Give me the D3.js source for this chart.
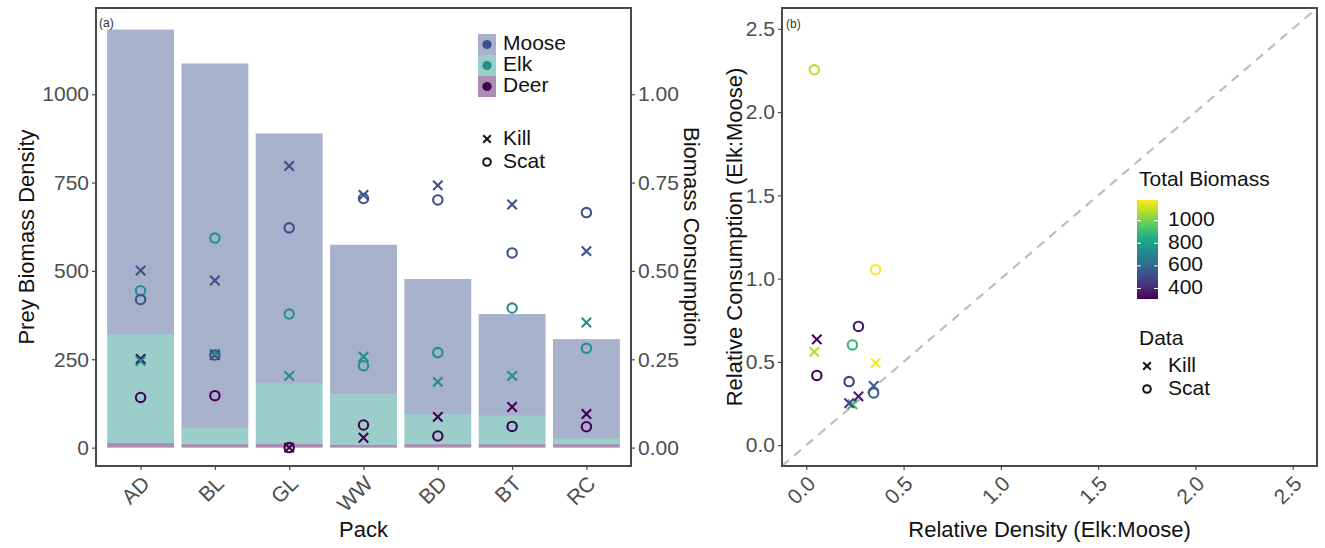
<!DOCTYPE html>
<html>
<head>
<meta charset="utf-8">
<script src="https://cdn.jsdelivr.net/npm/d3@7"></script>
<style>
  html, body { margin: 0; padding: 0; background: #fff; }
  svg { display: block; font-family: "Liberation Sans", Arial, Helvetica, sans-serif; }
</style>
</head>
<body>
<svg id="chart" width="1325" height="548"></svg>
<script>
// ---- Data -----------------------------------------------------------
const packs = ["AD", "BL", "GL", "WW", "BD", "BT", "RC"];

// Prey biomass density by species (stacked bars)
const deerDensity  = [13, 10, 11, 8, 10, 10, 10];
const elkDensity   = [308, 45, 170, 143, 85, 80, 17];
const mooseDensity = [862, 1032, 708, 423, 382, 288, 280];

// Proportion of biomass consumed, from kills and from scats
const killMoose = [0.501, 0.473, 0.797, 0.715, 0.742, 0.688, 0.556];
const killElk   = [0.245, 0.265, 0.203, 0.257, 0.186, 0.203, 0.354];
const killDeer  = [0.251, 0.262, 0.000, 0.028, 0.087, 0.115, 0.095];
const scatMoose = [0.419, 0.262, 0.622, 0.705, 0.701, 0.551, 0.665];
const scatElk   = [0.444, 0.593, 0.378, 0.232, 0.269, 0.395, 0.281];
const scatDeer  = [0.142, 0.147, 0.000, 0.064, 0.033, 0.060, 0.059];

// Elk:Moose ratios per pack
const relDensity = [0.356, 0.041, 0.237, 0.346, 0.220, 0.268, 0.054];
const relKill    = [0.493, 0.560, 0.245, 0.356, 0.252, 0.293, 0.635];
const relScat    = [1.054, 2.254, 0.602, 0.314, 0.382, 0.713, 0.419];

const leftTicks  = [0, 250, 500, 750, 1000];
const rightTicks = [0, 0.25, 0.5, 0.75, 1.0];
const ratioTicks = [0, 0.5, 1.0, 1.5, 2.0, 2.5];
const biomassTicks = [400, 600, 800, 1000];

const species = ["Moose", "Elk", "Deer"];
const speciesColor = { Moose: "#3B528B", Elk: "#21908C", Deer: "#440154" };
const barAlpha = 0.45;

// ---- Setup ----------------------------------------------------------
const svg = d3.select("#chart");
const tickColor = "#4D4D4D";
const frameColor = "#4a4a4a";
const tickFont = 21, titleFont = 22, legendFont = 21;

const totals = packs.map((p, i) => deerDensity[i] + elkDensity[i] + mooseDensity[i]);
const colorScale = d3.scaleSequential(d3.interpolateViridis).domain(d3.extent(totals));

function cross(g, x, y, h, color, sw) {
  g.append("path")
    .attr("d", `M${x - h},${y - h}L${x + h},${y + h}M${x - h},${y + h}L${x + h},${y - h}`)
    .attr("stroke", color).attr("stroke-width", sw).attr("fill", "none");
}
function ring(g, x, y, r, color, sw) {
  g.append("circle").attr("cx", x).attr("cy", y).attr("r", r)
    .attr("fill", "none").attr("stroke", color).attr("stroke-width", sw);
}
function styleAxis(g) {
  g.select(".domain").remove();
  g.selectAll(".tick line").attr("stroke", tickColor).attr("stroke-width", 1.2);
  g.selectAll(".tick text").attr("fill", tickColor).attr("font-size", tickFont)
    .attr("font-family", "Liberation Sans, Arial, sans-serif");
}

// ---- Panel (a): stacked bars + consumption points --------------------
const A = { left: 96, right: 631, top: 8, bottom: 466 };
const xA = d3.scalePoint().domain(packs).range([A.left, A.right]).padding(0.6);
const yA = d3.scaleLinear().domain([-52, 1244]).range([A.bottom, A.top]);
const yA2 = d3.scaleLinear().domain([-0.052, 1.244]).range([A.bottom, A.top]);
const barW = xA.step() * 0.9;

const gA = svg.append("g");
gA.append("defs").append("clipPath").attr("id", "clipA")
  .append("rect").attr("x", A.left).attr("y", A.top)
  .attr("width", A.right - A.left).attr("height", A.bottom - A.top);

const stackRows = packs.map((p, i) => ({ pack: p, Deer: deerDensity[i], Elk: elkDensity[i], Moose: mooseDensity[i] }));
const stacked = d3.stack().keys(["Deer", "Elk", "Moose"])(stackRows);
const barsG = gA.append("g").attr("clip-path", "url(#clipA)");
stacked.forEach(layer => {
  barsG.selectAll(null).data(layer).enter().append("rect")
    .attr("x", d => xA(d.data.pack) - barW / 2)
    .attr("width", barW)
    .attr("y", d => yA(d[1]))
    .attr("height", d => yA(d[0]) - yA(d[1]))
    .attr("fill", speciesColor[layer.key])
    .attr("fill-opacity", barAlpha);
});

// Consumption points (right axis)
const ptsA = barsG.append("g");
const killSets = { Moose: killMoose, Elk: killElk, Deer: killDeer };
const scatSets = { Moose: scatMoose, Elk: scatElk, Deer: scatDeer };
["Deer", "Elk", "Moose"].forEach(sp => {
  packs.forEach((p, i) => {
    ring(ptsA, xA(p), yA2(scatSets[sp][i]), 4.7, speciesColor[sp], 2.1);
  });
  packs.forEach((p, i) => {
    cross(ptsA, xA(p), yA2(killSets[sp][i]), 4.7, speciesColor[sp], 2.1);
  });
});

// Axes
const axL = gA.append("g").attr("transform", `translate(${A.left},0)`)
  .call(d3.axisLeft(yA).tickValues(leftTicks).tickSize(4).tickPadding(3).tickFormat(d3.format("d")));
styleAxis(axL);
const axR = gA.append("g").attr("transform", `translate(${A.right},0)`)
  .call(d3.axisRight(yA2).tickValues(rightTicks).tickSize(4).tickPadding(3).tickFormat(d3.format(".2f")));
styleAxis(axR);
const axB = gA.append("g").attr("transform", `translate(0,${A.bottom})`)
  .call(d3.axisBottom(xA).tickSize(4).tickPadding(3));
styleAxis(axB);
axB.selectAll(".tick text")
  .attr("text-anchor", "end").attr("dy", null).attr("y", null)
  .attr("transform", "translate(6,15) rotate(-45)")
  .attr("dominant-baseline", "middle");

gA.append("rect").attr("x", A.left).attr("y", A.top)
  .attr("width", A.right - A.left).attr("height", A.bottom - A.top)
  .attr("fill", "none").attr("stroke", frameColor).attr("stroke-width", 2);

gA.append("text").attr("x", 99).attr("y", 27).attr("font-size", 12).attr("fill", "#333").text("(a)");

// Titles
gA.append("text").attr("x", (A.left + A.right) / 2).attr("y", 537)
  .attr("text-anchor", "middle").attr("font-size", titleFont).attr("fill", "#111").text("Pack");
gA.append("text").attr("transform", `translate(34,${(A.top + A.bottom) / 2}) rotate(-90)`)
  .attr("text-anchor", "middle").attr("font-size", titleFont).attr("fill", "#111").text("Prey Biomass Density");
gA.append("text").attr("transform", `translate(684,${(A.top + A.bottom) / 2}) rotate(90)`)
  .attr("text-anchor", "middle").attr("font-size", titleFont).attr("fill", "#111").text("Biomass Consumption");

// Legend (a)
const legA = gA.append("g");
species.forEach((sp, i) => {
  const y0 = 34 + i * 21;
  legA.append("rect").attr("x", 478).attr("y", y0).attr("width", 18).attr("height", 21)
    .attr("fill", speciesColor[sp]).attr("fill-opacity", barAlpha);
  legA.append("circle").attr("cx", 487).attr("cy", y0 + 10.5).attr("r", 4.6).attr("fill", speciesColor[sp]);
  legA.append("text").attr("x", 503).attr("y", y0 + 10.5).attr("dominant-baseline", "middle")
    .attr("font-size", legendFont).attr("fill", "#111").text(sp);
});
cross(legA, 487, 139, 3.8, "#111", 2);
ring(legA, 487, 162, 3.8, "#111", 2);
legA.append("text").attr("x", 503).attr("y", 139).attr("dominant-baseline", "middle")
  .attr("font-size", legendFont).attr("fill", "#111").text("Kill");
legA.append("text").attr("x", 503).attr("y", 162).attr("dominant-baseline", "middle")
  .attr("font-size", legendFont).attr("fill", "#111").text("Scat");

// ---- Panel (b): Elk:Moose ratios --------------------------------------
const B = { left: 782, right: 1317, top: 8, bottom: 466 };
const xB = d3.scaleLinear().domain([-0.125, 2.625]).range([B.left, B.right]);
const yB = d3.scaleLinear().domain([-0.125, 2.625]).range([B.bottom, B.top]);

const gB = svg.append("g");
gB.append("defs").append("clipPath").attr("id", "clipB")
  .append("rect").attr("x", B.left).attr("y", B.top)
  .attr("width", B.right - B.left).attr("height", B.bottom - B.top);
const plotB = gB.append("g").attr("clip-path", "url(#clipB)");

// 1:1 reference line
plotB.append("line")
  .attr("x1", xB(-0.125)).attr("y1", yB(-0.125))
  .attr("x2", xB(2.625)).attr("y2", yB(2.625))
  .attr("stroke", "#BEBEBE").attr("stroke-width", 2.2).attr("stroke-dasharray", "9,7");

packs.forEach((p, i) => {
  ring(plotB, xB(relDensity[i]), yB(relScat[i]), 4.7, colorScale(totals[i]), 2.1);
});
packs.forEach((p, i) => {
  cross(plotB, xB(relDensity[i]), yB(relKill[i]), 4.7, colorScale(totals[i]), 2.1);
});

const bxL = gB.append("g").attr("transform", `translate(${B.left},0)`)
  .call(d3.axisLeft(yB).tickValues(ratioTicks).tickSize(4).tickPadding(3).tickFormat(d3.format(".1f")));
styleAxis(bxL);
const bxB = gB.append("g").attr("transform", `translate(0,${B.bottom})`)
  .call(d3.axisBottom(xB).tickValues(ratioTicks).tickSize(4).tickPadding(3).tickFormat(d3.format(".1f")));
styleAxis(bxB);
bxB.selectAll(".tick text")
  .attr("text-anchor", "end").attr("dy", null).attr("y", null)
  .attr("transform", "translate(6,15) rotate(-45)")
  .attr("dominant-baseline", "middle");

gB.append("rect").attr("x", B.left).attr("y", B.top)
  .attr("width", B.right - B.left).attr("height", B.bottom - B.top)
  .attr("fill", "none").attr("stroke", frameColor).attr("stroke-width", 2);

gB.append("text").attr("x", 786).attr("y", 28).attr("font-size", 12).attr("fill", "#333").text("(b)");

gB.append("text").attr("x", (B.left + B.right) / 2).attr("y", 537)
  .attr("text-anchor", "middle").attr("font-size", titleFont).attr("fill", "#111").text("Relative Density (Elk:Moose)");
gB.append("text").attr("transform", `translate(742,${(B.top + B.bottom) / 2}) rotate(-90)`)
  .attr("text-anchor", "middle").attr("font-size", titleFont).attr("fill", "#111").text("Relative Consumption (Elk:Moose)");

// Legend (b): colour bar
const legB = gB.append("g");
legB.append("text").attr("x", 1139).attr("y", 186).attr("font-size", legendFont).attr("fill", "#111").text("Total Biomass");
const grad = svg.append("defs").append("linearGradient").attr("id", "viridisBar")
  .attr("x1", 0).attr("y1", 1).attr("x2", 0).attr("y2", 0);
d3.range(0, 1.0001, 0.05).forEach(t => {
  grad.append("stop").attr("offset", t).attr("stop-color", d3.interpolateViridis(t));
});
const cbY = d3.scaleLinear().domain(d3.extent(totals)).range([299, 200]);
legB.append("rect").attr("x", 1137).attr("y", 200).attr("width", 21).attr("height", 99)
  .attr("fill", "url(#viridisBar)");
biomassTicks.forEach(v => {
  const y = cbY(v);
  legB.append("line").attr("x1", 1137).attr("x2", 1141).attr("y1", y).attr("y2", y)
    .attr("stroke", "#fff").attr("stroke-width", 1);
  legB.append("line").attr("x1", 1154).attr("x2", 1158).attr("y1", y).attr("y2", y)
    .attr("stroke", "#fff").attr("stroke-width", 1);
  legB.append("text").attr("x", 1168).attr("y", y).attr("dominant-baseline", "middle")
    .attr("font-size", legendFont).attr("fill", "#111").text(v);
});

// Legend (b): data source
legB.append("text").attr("x", 1139).attr("y", 345).attr("font-size", legendFont).attr("fill", "#111").text("Data");
cross(legB, 1147, 366, 3.8, "#111", 2);
ring(legB, 1147, 389, 3.8, "#111", 2);
legB.append("text").attr("x", 1168).attr("y", 366).attr("dominant-baseline", "middle")
  .attr("font-size", legendFont).attr("fill", "#111").text("Kill");
legB.append("text").attr("x", 1168).attr("y", 389).attr("dominant-baseline", "middle")
  .attr("font-size", legendFont).attr("fill", "#111").text("Scat");
</script>
</body>
</html>
